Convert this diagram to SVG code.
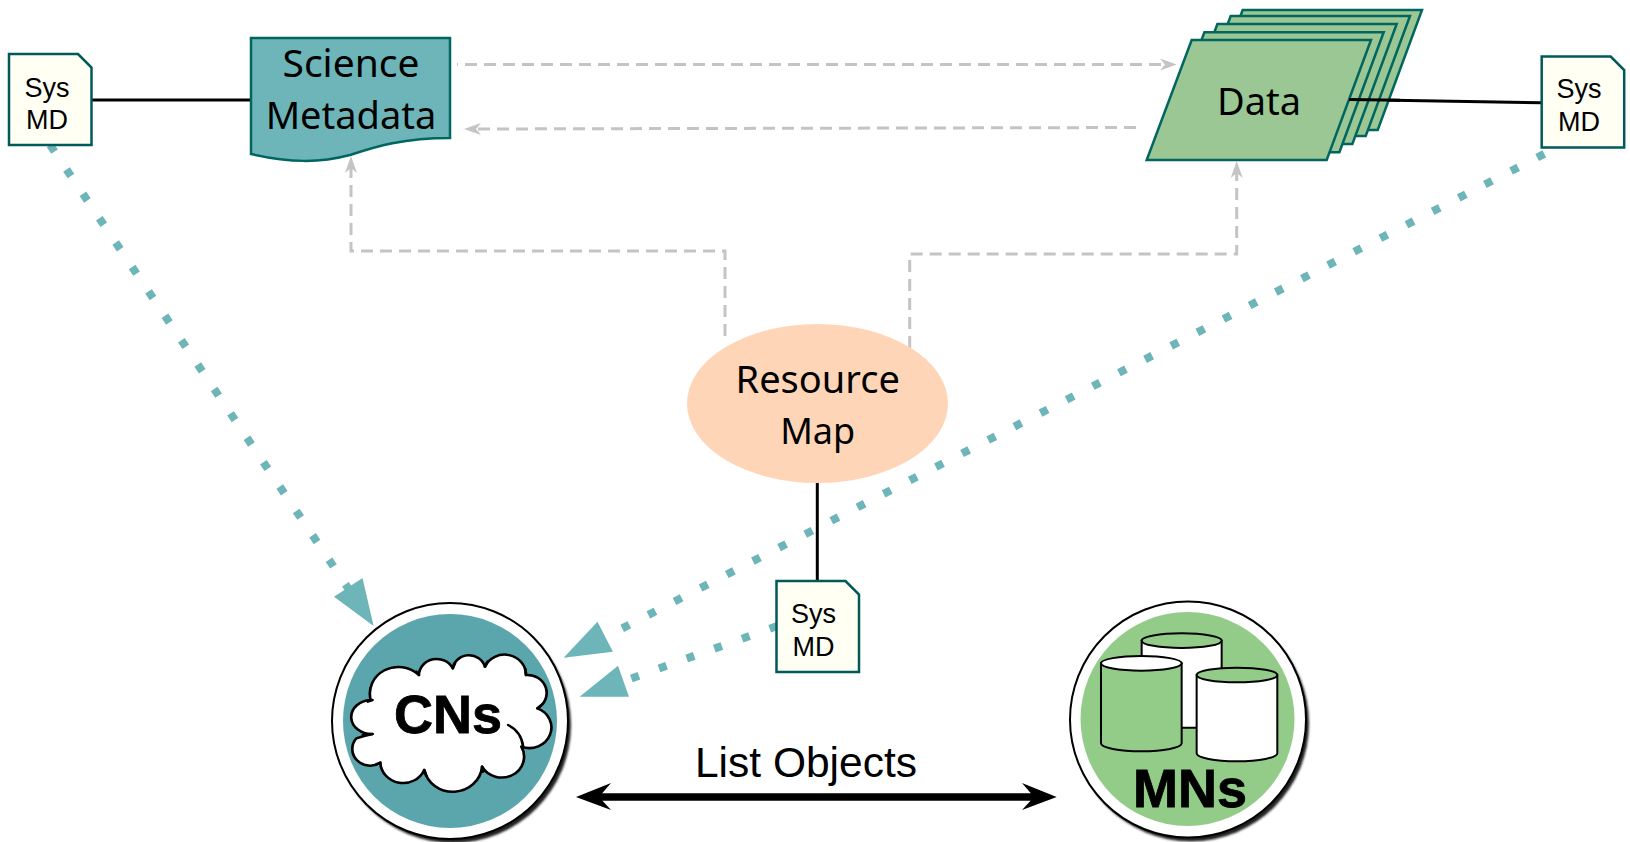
<svg xmlns="http://www.w3.org/2000/svg" xmlns:xlink="http://www.w3.org/1999/xlink" width="1630" height="842" viewBox="0 0 1630 842">
<style>
text{text-anchor:middle}
.sans{font-family:"Liberation Sans",Arial,sans-serif}
.sysmd{fill:#fffff3;stroke:#005a5a;stroke-width:2.5}
.sm{font-size:27px;fill:#000}
.lab{font-family:"Noto Sans","Open Sans",sans-serif;font-size:38px;fill:#000}
.big{font-family:"Liberation Sans",Arial,sans-serif;font-size:54px;font-weight:bold;fill:#000;stroke:#000;stroke-width:.8}
.page{fill:#9bc795;stroke:#00665f;stroke-width:2.5}
.solid{fill:none;stroke:#000;stroke-width:3}
.dash{fill:none;stroke:#c4c4c4;stroke-width:3;stroke-dasharray:12 7}
.dot{fill:none;stroke:#6db5b9;stroke-width:8;stroke-dasharray:8 21.4}
.head{fill:#6db5b9}
.ghead{fill:#c4c4c4}
.cyl{stroke:#000;stroke-width:6}
.cl{fill:none;stroke:#000;stroke-width:7.5;stroke-linecap:round}
</style>
<defs>
<polygon id="page" class="page" points="1191.7,40 1371,40 1326.7,160 1146.7,160"/>
<path id="sysnote" class="sysmd" d="M0 0H69L82.5 13.500V91H0Z"/>
<filter id="soft" x="-10%" y="-10%" width="120%" height="120%"><feGaussianBlur stdDeviation="1.2"/></filter>
</defs>
<g id="connectors">
<path class="solid" d="M92 100H251"/>
<path class="solid" d="M1349 99.500L1542 102.700"/>
<path class="solid" d="M817.300 483V581"/>
<path class="dash" stroke-dashoffset="11" d="M457 64.500H1166"/>
<path class="ghead" d="M1176.700 64.500L1160 58.500L1165 64.500L1160 70.500Z"/>
<path class="dash" d="M1136 127.500L474 129"/>
<path class="ghead" d="M464 129L481 123L476 129L481 135Z"/>
<path class="dash" d="M351 166V251H725V342"/>
<path class="ghead" d="M351 156L345 173L351 168L357 173Z"/>
<path class="dash" d="M909.700 348V254H1236.700V171"/>
<path class="ghead" d="M1236.700 161L1230.700 178L1236.700 173L1242.700 178Z"/>
<path class="dot" d="M50.100 145L350 591"/>
<polygon class="head" points="373.600,626 334,596.700 362.500,578"/>
<path class="dot" d="M1544.300 153.900L620 629.500"/>
<polygon class="head" points="563.600,657.700 597.500,621.700 612.900,651.700"/>
<path class="dot" d="M777.200 626L630 679"/>
<polygon class="head" points="579.600,696.700 618,665.700 629,696.700"/>
<path d="M590 797H1042" fill="none" stroke="#000" stroke-width="7.500"/>
<path d="M576 797L611 783L599 797L611 810Z" fill="#000"/>
<path d="M1056.700 797L1022 783L1034 797L1022 810Z" fill="#000"/>
</g>
<g id="science-metadata">
<path d="M251 38H450V138C400 138 372 148 350 155C320 163 290 163 251 154Z" fill="#6db5b9" stroke="#00665f" stroke-width="2.500"/>
<text class="lab" x="351" y="77" style="font-size:39px">Science</text>
<text class="lab" x="351" y="129">Metadata</text>
</g>
<g id="data">
<use xlink:href="#page" href="#page" x="51" y="-30"/>
<use xlink:href="#page" href="#page" x="39" y="-24"/>
<use xlink:href="#page" href="#page" x="25.700" y="-16"/>
<use xlink:href="#page" href="#page" x="12.700" y="-7.700"/>
<use xlink:href="#page" href="#page"/>
<path class="solid" d="M1349 99.500L1400 100.300"/>
<text class="lab" x="1259" y="115">Data</text>
</g>
<g id="resource-map">
<ellipse cx="817.500" cy="403.500" rx="130.500" ry="79.500" fill="#ffd5b8"/>
<text class="lab" x="817.700" y="393">Resource</text>
<text class="lab" x="817.700" y="444" style="font-size:36px">Map</text>
</g>
<g id="sysmd-left">
<use xlink:href="#sysnote" href="#sysnote" x="9" y="54"/>
<text class="sans sm" x="47" y="97">Sys</text>
<text class="sans sm" x="47" y="129">MD</text>
</g>
<g id="sysmd-right">
<use xlink:href="#sysnote" href="#sysnote" x="1541.700" y="56.500"/>
<text class="sans sm" x="1579" y="98">Sys</text>
<text class="sans sm" x="1579" y="131">MD</text>
</g>
<g id="sysmd-center">
<use xlink:href="#sysnote" href="#sysnote" x="776.500" y="581"/>
<text class="sans sm" x="813.600" y="623">Sys</text>
<text class="sans sm" x="813.600" y="656">MD</text>
</g>
<g id="cns">
<circle cx="453" cy="725" r="118" fill="#222" filter="url(#soft)"/>
<circle cx="450" cy="721" r="118" fill="#fff" stroke="#000" stroke-width="2"/>
<circle cx="450" cy="721" r="107" fill="#5ba5ad"/>
<g transform="translate(310 570) scale(.357 .3333)">
<path d="M175 492A57 51 0 1 1 170 390A80 80 0 0 1 305 315A50 50 0 0 1 400 295A46 46 0 0 1 490 290A60 60 0 0 1 605 315A54 54 0 0 1 637 415A60 60 0 0 1 592 530A62 62 0 0 1 482 590A82 82 0 0 1 320 600A64 64 0 0 1 197 578A50 50 0 0 1 130 505Q150 497 175 492Z" fill="#fff" stroke="#000" stroke-width="7.500" stroke-linejoin="round"/>
<path class="cl" d="M555 465Q592 485 597 530M175 390L162 395M305 315L298 305M400 295L406 280M490 290L497 275M605 315L603 298M637 415L650 403M482 590L485 605M320 600L326 618M197 578L185 583M175 492L148 495"/>
</g>
<text class="big" x="448" y="733">CNs</text>
</g>
<g id="mns">
<circle cx="1191" cy="723.500" r="118" fill="#222" filter="url(#soft)"/>
<circle cx="1188" cy="719.500" r="118" fill="#fff" stroke="#000" stroke-width="2"/>
<circle cx="1187.500" cy="719" r="107" fill="#93cc88"/>
<g transform="translate(1040 580) scale(.3333)">
<path class="cyl" d="M305 182V443H545V182Z" fill="#fff"/>
<ellipse class="cyl" cx="425" cy="182" rx="120" ry="22" fill="#93cc88"/>
<path class="cyl" d="M183 250V490A121 24 0 0 0 425 490V250Z" fill="#93cc88"/>
<ellipse class="cyl" cx="304" cy="250" rx="121" ry="22" fill="#fff"/>
<path class="cyl" d="M470 285V520A121 24 0 0 0 712 520V285Z" fill="#fff"/>
<ellipse class="cyl" cx="591" cy="285" rx="121" ry="22" fill="#93cc88"/>
</g>
<text class="big" x="1190" y="807">MNs</text>
</g>
<g id="list-objects">
<text class="sans" x="806" y="777" font-size="42.500">List Objects</text>
</g>
</svg>
